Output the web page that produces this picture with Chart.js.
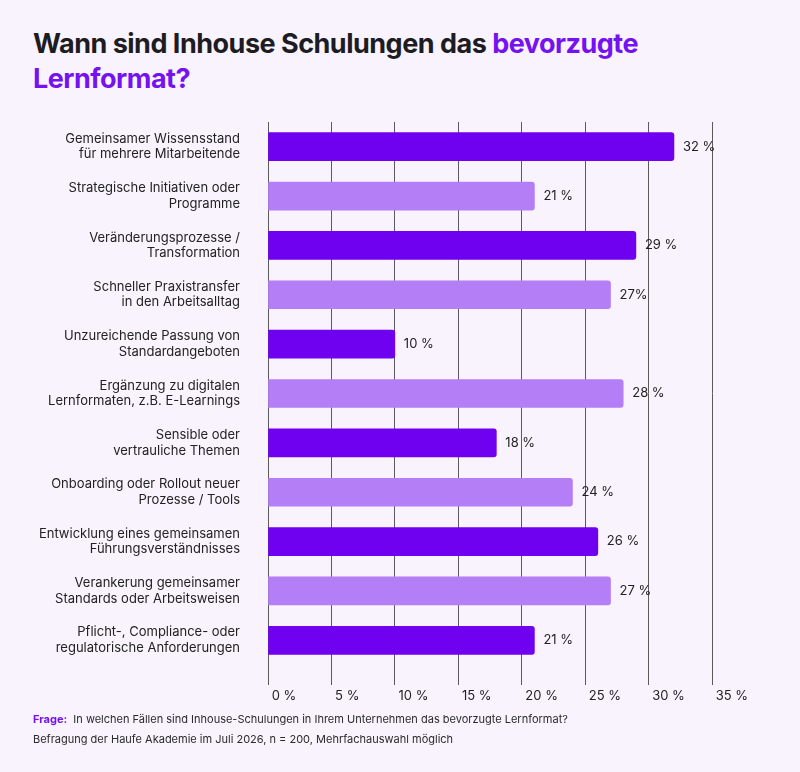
<!DOCTYPE html>
<html lang="de">
<head>
<meta charset="UTF-8" />
<script src="https://cdn.jsdelivr.net/npm/chart.js"></script>
<style>
  body { margin: 0; background: #f8f3fd; font-family: 'Inter', sans-serif; }
  .wrap { position: relative; width: 800px; height: 772px; }
  h1 { position: absolute; left: 33px; top: 26px; margin: 0; font-size: 27px; line-height: 35px; font-weight: 700; color: #1c1c22; letter-spacing: -0.5px; }
  h1 span { color: #7412f0; }
  .foot { position: absolute; left: 33px; top: 709px; font-size: 11px; line-height: 20px; color: #2a2a2a; }
  .foot b { color: #7412f0; }
  canvas { position: absolute; left: 0; top: 0; }
</style>
</head>
<body>
<div class="wrap">
  <h1>Wann sind Inhouse Schulungen das <span>bevorzugte<br>Lernformat?</span></h1>
  <canvas id="c" width="800" height="772"></canvas>
  <div class="foot"><b>Frage:</b>&nbsp; In welchen Fällen sind Inhouse-Schulungen in Ihrem Unternehmen das bevorzugte Lernformat?<br>Befragung der Haufe Akademie im Juli 2026, n = 200, Mehrfachauswahl möglich</div>
</div>
<script>
const categories = [
  ['Gemeinsamer Wissensstand', 'für mehrere Mitarbeitende'],
  ['Strategische Initiativen oder', 'Programme'],
  ['Veränderungsprozesse /', 'Transformation'],
  ['Schneller Praxistransfer', 'in den Arbeitsalltag'],
  ['Unzureichende Passung von', 'Standardangeboten'],
  ['Ergänzung zu digitalen', 'Lernformaten, z.B. E-Learnings'],
  ['Sensible oder', 'vertrauliche Themen'],
  ['Onboarding oder Rollout neuer', 'Prozesse / Tools'],
  ['Entwicklung eines gemeinsamen', 'Führungsverständnisses'],
  ['Verankerung gemeinsamer', 'Standards oder Arbeitsweisen'],
  ['Pflicht-, Compliance- oder', 'regulatorische Anforderungen']
];
const values = [32, 21, 29, 27, 10, 28, 18, 24, 26, 27, 21];
const valueLabels = ['32 %', '21 %', '29 %', '27%', '10 %', '28 %', '18 %', '24 %', '26 %', '27 %', '21 %'];
const barColors = values.map((v, i) => i % 2 === 0 ? '#7000f0' : '#b47ef7');

const valuePlugin = {
  id: 'vals',
  afterDatasetsDraw(chart) {
    const ctx = chart.ctx;
    ctx.save();
    ctx.font = '13px Inter';
    ctx.fillStyle = '#222';
    ctx.textBaseline = 'middle';
    chart.getDatasetMeta(0).data.forEach((bar, i) => {
      ctx.fillText(valueLabels[i], bar.x + 9, bar.y);
    });
    ctx.restore();
  }
};

new Chart(document.getElementById('c'), {
  type: 'bar',
  data: {
    labels: categories,
    datasets: [{
      data: values,
      backgroundColor: barColors,
      barThickness: 28,
      borderRadius: { topRight: 3, bottomRight: 3 },
      borderSkipped: false
    }]
  },
  options: {
    indexAxis: 'y',
    responsive: false,
    animation: false,
    layout: { padding: { top: 122, right: 88 } },
    plugins: { legend: { display: false }, tooltip: { enabled: false } },
    scales: {
      x: {
        min: 0, max: 35,
        ticks: { stepSize: 5, align: 'start', padding: 3, color: '#222', font: { family: 'Inter', size: 13 }, callback: v => ' ' + v + ' %' },
        grid: { color: '#5a5a5a', lineWidth: 1, tickLength: 20 },
        border: { display: false },
        afterFit: s => { s.height = 107; }
      },
      y: {
        ticks: { color: '#222', padding: 20, font: { family: 'Inter', size: 13 } },
        grid: { display: false },
        border: { display: false },
        afterFit: s => { s.width = 268; }
      }
    }
  },
  plugins: [valuePlugin]
});
</script>
</body>
</html>
